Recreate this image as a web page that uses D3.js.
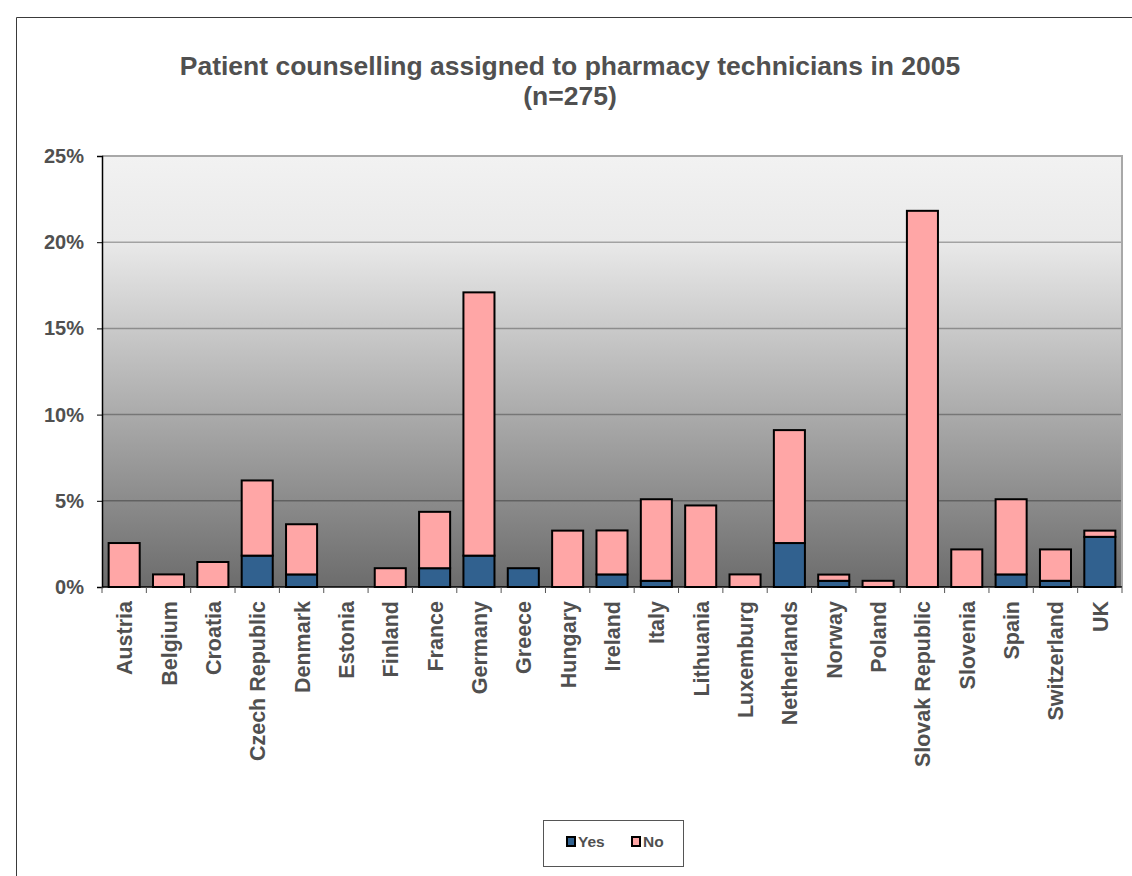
<!DOCTYPE html>
<html lang="en">
<head>
  <meta charset="UTF-8">
  <title>Patient counselling assigned to pharmacy technicians in 2005</title>
  <script src="https://d3js.org/d3.v7.min.js"></script>
  <style>
    body { margin: 0; background: #fff; font-family: "Liberation Sans", Arial, sans-serif; }
    text { font-weight: bold; fill: #505050; }
  </style>
</head>
<body>
  <svg width="1132" height="876"></svg>
  <script>
    // values in % of respondents (n=275)
    const countries = ["Austria", "Belgium", "Croatia", "Czech Republic", "Denmark", "Estonia",
      "Finland", "France", "Germany", "Greece", "Hungary", "Ireland", "Italy", "Lithuania",
      "Luxemburg", "Netherlands", "Norway", "Poland", "Slovak Republic", "Slovenia", "Spain",
      "Switzerland", "UK"];
    const yes = [0, 0, 0, 1.82, 0.73, 0, 0, 1.09, 1.82, 1.09, 0, 0.73, 0.36, 0,
      0, 2.55, 0.36, 0, 0, 0, 0.73, 0.36, 2.91];
    const no = [2.55, 0.73, 1.45, 4.36, 2.91, 0, 1.09, 3.27, 15.27, 0, 3.27, 2.55, 4.73, 4.73,
      0.73, 6.55, 0.36, 0.36, 21.82, 2.18, 4.36, 1.82, 0.36];
    const yTicks = [0, 5, 10, 15, 20, 25];
    const seriesNames = ["Yes", "No"];
    const colors = { Yes: "#31618f", No: "#ffa6a6" };

    const svg = d3.select("svg");
    const margin = { top: 156, right: 10, bottom: 289, left: 102 };
    const width = 1122 - margin.left;
    const height = 587 - margin.top;

    // outer chart border
    svg.append("path")
      .attr("d", "M16.5,880 V17.5 H1140")
      .attr("fill", "none")
      .attr("stroke", "#3a3a3a")
      .attr("stroke-width", 1);

    svg.append("text")
      .attr("x", 570).attr("y", 75)
      .attr("text-anchor", "middle")
      .style("font-size", "26.5px")
      .text("Patient counselling assigned to pharmacy technicians in 2005");
    svg.append("text")
      .attr("x", 570).attr("y", 105)
      .attr("text-anchor", "middle")
      .style("font-size", "26.5px")
      .text("(n=275)");

    const defs = svg.append("defs");
    const grad = defs.append("linearGradient")
      .attr("id", "bg").attr("x1", 0).attr("y1", 0).attr("x2", 0).attr("y2", 1);
    grad.append("stop").attr("offset", "0%").attr("stop-color", "#f2f2f2");
    grad.append("stop").attr("offset", "20%").attr("stop-color", "#e9e9e9");
    grad.append("stop").attr("offset", "100%").attr("stop-color", "#6c6c6c");

    const g = svg.append("g")
      .attr("transform", `translate(${margin.left},${margin.top})`);

    const x = d3.scaleBand()
      .domain(countries)
      .range([0, width])
      .paddingInner(0.3)
      .paddingOuter(0.15);

    const y = d3.scaleLinear()
      .domain([0, 25])
      .range([height, 0]);

    g.append("rect")
      .attr("width", width).attr("height", height)
      .attr("fill", "url(#bg)");

    // gridlines
    g.selectAll(".grid")
      .data(yTicks.filter(d => d > 0 && d < 25))
      .enter().append("line")
      .attr("x1", 0).attr("x2", width)
      .attr("y1", d => y(d)).attr("y2", d => y(d))
      .attr("stroke", "rgba(0,0,0,0.3)")
      .attr("stroke-width", 1.5);

    // plot frame top and right
    g.append("path")
      .attr("d", `M0,${y(25)} H${width} V${height}`)
      .attr("fill", "none")
      .attr("stroke", "#a8a8a8")
      .attr("stroke-width", 2);

    const table = countries.map((c, i) => ({ country: c, Yes: yes[i], No: no[i] }));
    const stacked = d3.stack().keys(seriesNames)(table);

    stacked.forEach(s => {
      g.append("g")
        .selectAll("rect")
        .data(s.filter(d => d[1] - d[0] > 0))
        .enter().append("rect")
        .attr("x", d => x(d.data.country))
        .attr("y", d => y(d[1]))
        .attr("width", x.bandwidth())
        .attr("height", d => y(d[0]) - y(d[1]))
        .attr("fill", colors[s.key])
        .attr("stroke", "#000")
        .attr("stroke-width", 2);
    });

    // y axis
    const yAxis = g.append("g")
      .call(d3.axisLeft(y).tickValues(yTicks).tickSize(5).tickFormat(d => d + "%"));
    yAxis.select(".domain").attr("stroke", "#000").attr("stroke-width", 1.5);
    yAxis.selectAll(".tick line").attr("stroke", "#000");
    yAxis.selectAll(".tick text")
      .attr("x", -18)
      .style("font-size", "20px")
      .style("fill", "#505050");

    // x axis, ticks on band edges
    const step = x.step();
    g.append("line")
      .attr("x1", 0).attr("x2", width)
      .attr("y1", height).attr("y2", height)
      .attr("stroke", "#000").attr("stroke-width", 1.5);
    g.selectAll(".xtick")
      .data(d3.range(countries.length + 1))
      .enter().append("line")
      .attr("x1", i => i * step).attr("x2", i => i * step)
      .attr("y1", height).attr("y2", height + 6)
      .attr("stroke", "#555");

    g.selectAll(".xlabel")
      .data(countries)
      .enter().append("text")
      .attr("transform", d => `translate(${x(d) + x.bandwidth() / 2 + 8},${height + 14}) rotate(-90)`)
      .attr("text-anchor", "end")
      .style("font-size", "21.5px")
      .text(d => d);

    // legend
    const legend = svg.append("g").attr("transform", "translate(543,820)");
    legend.append("rect")
      .attr("x", 0.5).attr("y", 0.5).attr("width", 140).attr("height", 46)
      .attr("fill", "#fff").attr("stroke", "#555");
    const items = legend.selectAll(".item")
      .data(seriesNames)
      .enter().append("g")
      .attr("transform", (d, i) => `translate(${24 + i * 65},17)`);
    items.append("rect")
      .attr("width", 8).attr("height", 9)
      .attr("fill", d => colors[d])
      .attr("stroke", "#000").attr("stroke-width", 2);
    items.append("text")
      .attr("x", 11).attr("y", 10)
      .style("font-size", "15.5px")
      .text(d => d);
  </script>
</body>
</html>
